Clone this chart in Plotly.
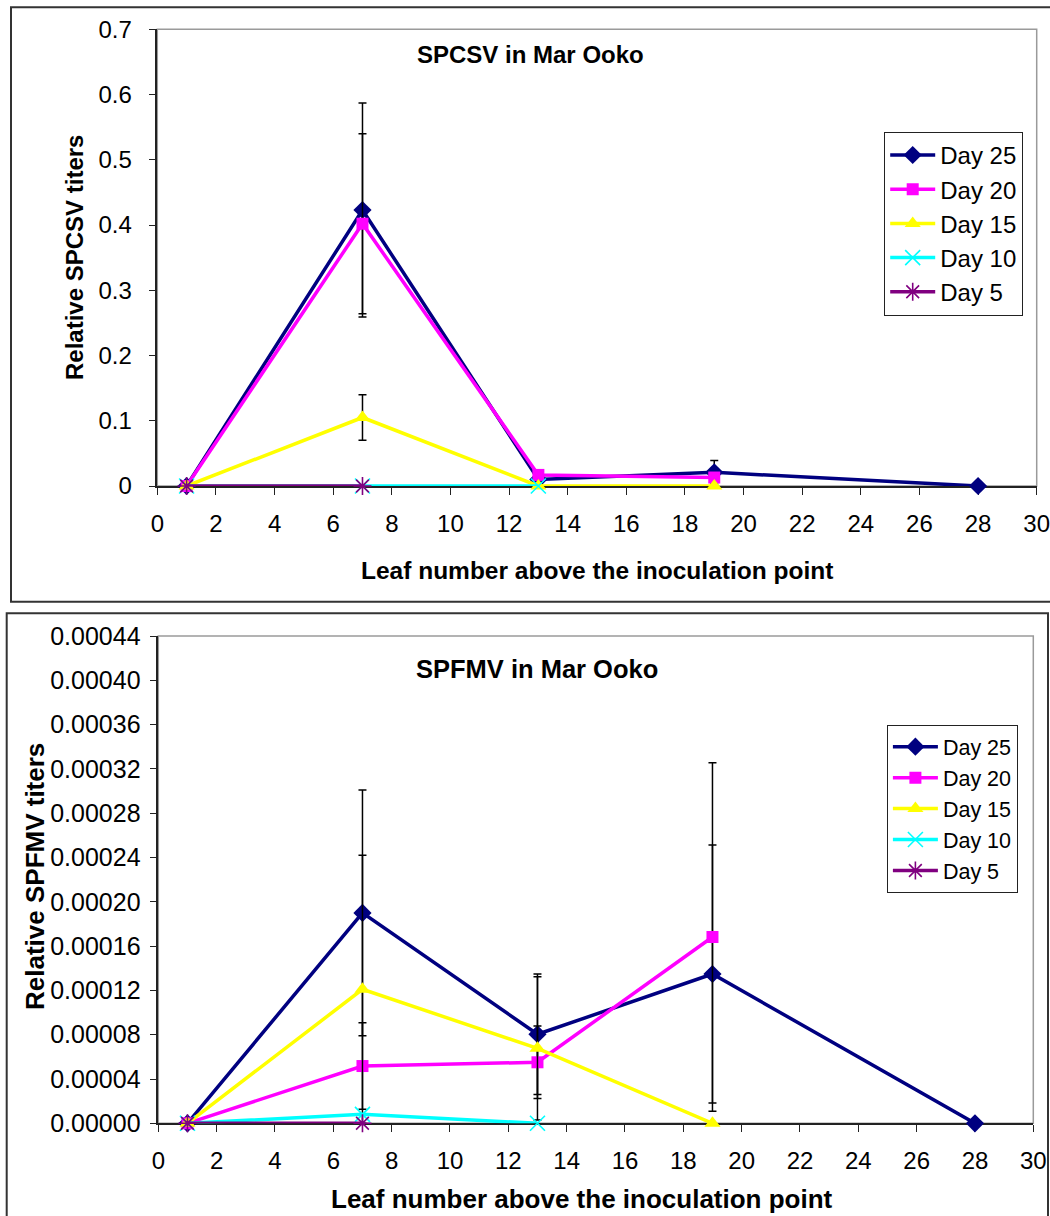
import plotly.graph_objects as go

# ---------------- data ----------------
series_names = ["Day 25", "Day 20", "Day 15", "Day 10", "Day 5"]
leaf_day25 = [1, 7, 13, 19, 28]
leaf_day20 = [1, 7, 13, 19]
leaf_day15 = [1, 7, 13, 19]
leaf_day10 = [1, 7, 13]
leaf_day5 = [1, 7]

# SPCSV relative titers
spcsv_day25 = [0.0, 0.423, 0.010, 0.021, 0.0]
spcsv_day25_err = [None, 0.164, None, 0.018, None]
spcsv_day20 = [0.0, 0.402, 0.017, 0.013]
spcsv_day20_err = [None, 0.138, None, None]
spcsv_day15 = [0.0, 0.105, 0.0, 0.0]
spcsv_day15_err = [None, 0.035, None, None]
spcsv_day10 = [0.0, 0.0, 0.0]
spcsv_day5 = [0.0, 0.0]

# SPFMV relative titers
spfmv_day25 = [0.0, 0.000190, 0.0000804, 0.0001348, 0.0]
spfmv_day25_err = [None, 0.000111, 0.0000545, 0.0001165, None]
spfmv_day20 = [0.0, 0.0000517, 0.0000551, 0.0001682]
spfmv_day20_err = [None, 0.000039, 0.0000328, 0.0001574]
spfmv_day15 = [0.0, 0.000121, 0.0000677, 0.0]
spfmv_day15_err = [None, 0.000121, 0.0000647, None]
spfmv_day10 = [0.0, 0.0000081, 0.0]
spfmv_day5 = [0.0, 0.0]

x_ticks = list(range(0, 31, 2))

# ---------------- styling ----------------
W, H = 1050, 1216
FONT = "Liberation Sans, Arial, sans-serif"
colors = ["#000080", "#FF00FF", "#FFFF00", "#00FFFF", "#800080"]
symbols = ["diamond", "square", "triangle-up", "x-thin", "asterisk"]
sizes = [14, 12, 14, 15, 15]


def px(x):
    return x / W


def py(y):
    return 1 - y / H


def add_series(fig, xs, ys, errs, i, xa, ya, legend):
    sym = symbols[i]
    open_sym = sym in ("x-thin", "asterisk")
    marker = dict(symbol=sym, size=sizes[i], color=colors[i],
                  line=dict(color=colors[i], width=1.6 if open_sym else 0))
    tr = go.Scatter(
        x=xs, y=ys, name=series_names[i], mode="lines+markers",
        line=dict(color=colors[i], width=3.5), marker=marker,
        xaxis=xa, yaxis=ya, legend=legend, cliponaxis=False,
    )
    if errs is not None:
        tr.error_y = dict(type="data", array=errs, symmetric=True,
                          color="black", thickness=1.5, width=4)
    fig.add_trace(tr)


fig = go.Figure()

top = [(leaf_day25, spcsv_day25, spcsv_day25_err),
       (leaf_day20, spcsv_day20, spcsv_day20_err),
       (leaf_day15, spcsv_day15, spcsv_day15_err),
       (leaf_day10, spcsv_day10, None),
       (leaf_day5, spcsv_day5, None)]
bottom = [(leaf_day25, spfmv_day25, spfmv_day25_err),
          (leaf_day20, spfmv_day20, spfmv_day20_err),
          (leaf_day15, spfmv_day15, spfmv_day15_err),
          (leaf_day10, spfmv_day10, None),
          (leaf_day5, spfmv_day5, None)]

for i, (xs, ys, es) in enumerate(top):
    add_series(fig, xs, ys, es, i, "x", "y", "legend")
for i, (xs, ys, es) in enumerate(bottom):
    add_series(fig, xs, ys, es, i, "x2", "y2", "legend2")

axis_common = dict(
    showline=True, linecolor="#222", linewidth=1.5,
    ticks="outside", ticklen=7, tickwidth=1.3, tickcolor="#222",
    showgrid=False, zeroline=False, layer="below traces",
    ticklabeloverflow="allow",
    tickfont=dict(family=FONT, size=24, color="black"),
)

fig.update_layout(
    width=W, height=H,
    margin=dict(l=0, r=0, t=0, b=0, autoexpand=False),
    paper_bgcolor="white", plot_bgcolor="white",
    font=dict(family=FONT, color="black"),
    xaxis=dict(axis_common, domain=[px(157.3), px(1036.7)], range=[0, 30],
               tickvals=x_ticks, anchor="y", ticklabelstandoff=8),
    yaxis=dict(axis_common, domain=[py(486), py(29.3)], range=[0, 0.7],
               dtick=0.1, anchor="x", ticklabelstandoff=12),
    xaxis2=dict(axis_common, domain=[px(158.3), px(1033.3)], range=[0, 30],
                tickvals=x_ticks, anchor="y2", ticklabelstandoff=8),
    yaxis2=dict(axis_common, domain=[py(1123.3), py(636)],
                range=[0, 0.00044], dtick=0.00004, tickformat=".5f",
                anchor="x2", ticklabelstandoff=4,
                tickfont=dict(family=FONT, size=25, color="black")),
    legend=dict(x=px(884), y=py(131.7), xanchor="left", yanchor="top",
                bordercolor="#222", borderwidth=1.2, bgcolor="white",
                font=dict(family=FONT, size=24), itemwidth=45,
                tracegroupgap=0),
    legend2=dict(x=px(886.7), y=py(725), xanchor="left", yanchor="top",
                 bordercolor="#222", borderwidth=1.2, bgcolor="white",
                 font=dict(family=FONT, size=21.5), itemwidth=45,
                 tracegroupgap=0),
)

# grey plot-area frames and outer chart boxes
fig.add_shape(type="rect", xref="x domain", yref="y domain", x0=0, x1=1, y0=0, y1=1,
              line=dict(color="#9a9a9a", width=1.5), layer="below")
fig.add_shape(type="rect", xref="x2 domain", yref="y2 domain", x0=0, x1=1, y0=0, y1=1,
              line=dict(color="#9a9a9a", width=1.5), layer="below")
fig.add_shape(type="rect", xref="paper", yref="paper",
              x0=px(11), x1=px(1060), y0=py(601.7), y1=py(7.3),
              line=dict(color="#333", width=2))
fig.add_shape(type="rect", xref="paper", yref="paper",
              x0=px(6.7), x1=px(1048), y0=py(1230), y1=py(613.3),
              line=dict(color="#333", width=2))


# titles and axis labels
def label(text, x, y, size, angle=0):
    fig.add_annotation(text=text, x=px(x), y=py(y), xref="paper", yref="paper",
                       showarrow=False, textangle=angle,
                       xanchor="center", yanchor="middle",
                       font=dict(family=FONT, size=size, color="black"))


label("<b>SPCSV in Mar Ooko</b>", 530, 55, 24)
label("<b>Relative SPCSV titers</b>", 74, 258, 24, -90)
label("<b>Leaf number above the inoculation point</b>", 597, 570, 24.5)
label("<b>SPFMV in Mar Ooko</b>", 537, 669, 25.5)
label("<b>Relative SPFMV titers</b>", 35, 877, 26, -90)
label("<b>Leaf number above the inoculation point</b>", 582, 1199, 26)

fig.write_html("out.html")
